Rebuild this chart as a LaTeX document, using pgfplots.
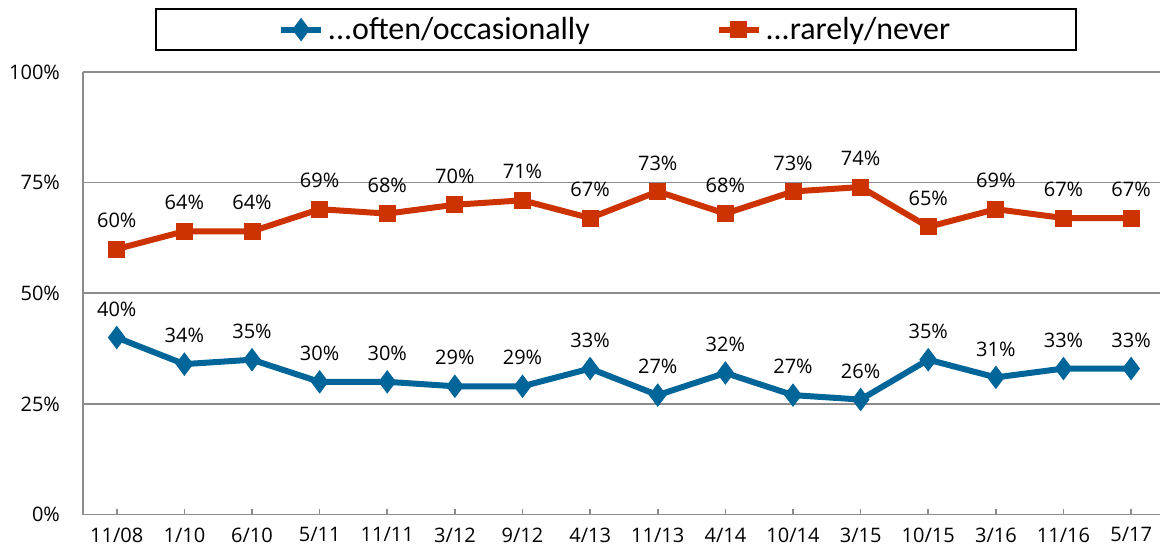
\documentclass[border=0pt]{standalone}
\usepackage{pgfplots}
\pgfplotsset{compat=1.18}
\usepackage{fontspec}
\setmainfont{Open Sans}
\newfontfamily\legfont{Carlito}
\definecolor{oftenblue}{RGB}{0,101,153}
\definecolor{rarelyred}{RGB}{204,51,0}
\definecolor{gridgray}{RGB}{140,140,140}

\pgfplotstableread{
x often rarely
0 40 60
1 34 64
2 35 64
3 30 69
4 30 68
5 29 70
6 29 71
7 33 67
8 27 73
9 32 68
10 27 73
11 26 74
12 35 65
13 31 69
14 33 67
15 33 67
}\surveydata

\begin{document}
\begin{tikzpicture}
\begin{axis}[
    scale only axis,
    width=539pt, height=221.5pt,
    xmin=-0.5, xmax=15.43,
    ymin=0, ymax=100,
    axis x line*=bottom, axis y line*=left,
    axis line style={gridgray, line width=0.8pt, -},
    xtick=data,
    xticklabels={11/08,1/10,6/10,5/11,11/11,3/12,9/12,4/13,11/13,4/14,10/14,3/15,10/15,3/16,11/16,5/17},
    ytick={0,25,50,75,100},
    yticklabels={0\%,25\%,50\%,75\%,100\%},
    ymajorgrids,
    grid style={gridgray, line width=0.8pt},
    x tick style={gridgray, line width=0.8pt},
    xtick align=inside,
    major x tick style={/pgfplots/major tick length=3pt},
    y tick style={draw=none},
    tick label style={font=\fontsize{10}{12}\selectfont, black},
    yticklabel style={xshift=-8pt},
    xticklabel style={yshift=-3pt},
    /pgf/number format/assume math mode=true,
    nodes near coords={\pgfmathprintnumber{\pgfplotspointmeta}\%},
    every node near coord/.append style={font=\fontsize{10}{12}\selectfont, black, anchor=south, yshift=7pt},
    legend style={
        at={(rel axis cs:0.495,1)}, anchor=south, yshift=10.5pt,
        draw=black, line width=0.8pt,
        legend columns=2,
        /tikz/every even column/.append style={column sep=61pt},
        inner xsep=61pt, inner ysep=2pt,
        font=\legfont\fontsize{16}{18}\selectfont,
    },
    legend image code/.code={
        \draw[mark repeat=2, mark phase=2] plot coordinates {(0cm,0cm) (0.35cm,0cm) (0.7cm,0cm)};
    },
    clip=false,
]
\path ([xshift=-41.5pt, yshift=-21pt]rel axis cs:0,0) rectangle ([yshift=36pt]rel axis cs:1,1);
\addplot[oftenblue, line width=3pt, mark=diamond*, mark size=5.5pt,
    mark options={solid, fill=oftenblue, line width=0.5pt}]
    table[x=x, y=often] {\surveydata};
\addlegendentry{...often/occasionally}
\addplot[rarelyred, line width=3pt, mark=square*, mark size=4pt,
    mark options={solid, fill=rarelyred, line width=0.5pt}]
    table[x=x, y=rarely] {\surveydata};
\addlegendentry{...rarely/never}
\end{axis}
\end{tikzpicture}
\end{document}
